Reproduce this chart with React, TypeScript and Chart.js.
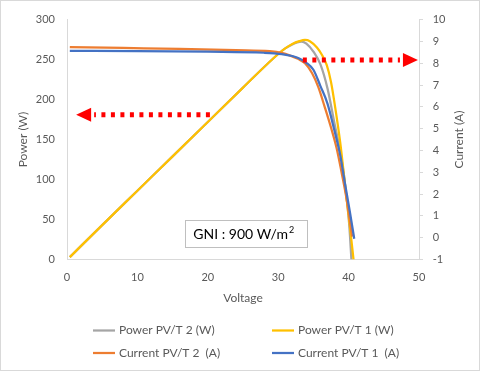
import React, { useEffect, useRef } from "react";
import { Chart, registerables } from "chart.js";

Chart.register(...registerables);

// ---------- data ----------
const powerPVT2Voltage = [0.4, 5, 10, 15, 20, 25, 30, 31, 32, 32.7, 33.3, 34, 35, 36, 37, 38, 38.7, 39.3, 39.8, 40.1, 40.4];
const powerPVT2Watts = [3, 43, 86, 129, 172, 215, 257, 264, 269, 271.5, 272.5, 270, 260, 244, 214, 170, 140, 108, 70, 42, 0];

const powerPVT1Voltage = [0.4, 5, 10, 15, 20, 25, 30, 31, 32, 33, 33.8, 34.5, 35.5, 36.2, 36.9, 37.5, 38.1, 38.8, 39.6, 40.2, 40.7];
const powerPVT1Watts = [3, 43, 86, 129, 172, 215, 257, 264, 269.5, 273, 274.5, 273, 265, 256, 243, 222, 190, 147, 85, 40, 0];

const currentPVT2Voltage = [0.4, 8, 16, 24, 28.8, 30.5, 31.7, 32.8, 33.8, 34.8, 35.7, 36.6, 37.5, 38.3, 39.0, 39.7, 40.5];
const currentPVT2Amps = [8.74, 8.7, 8.66, 8.6, 8.55, 8.47, 8.35, 8.2, 8.0, 7.55, 6.9, 6.0, 5.05, 4.1, 3.0, 1.8, 0.05];

const currentPVT1Voltage = [0.4, 10, 20, 28, 30.5, 32, 33, 34, 35, 36, 37, 38, 38.8, 39.5, 40.2, 40.8];
const currentPVT1Amps = [8.57, 8.56, 8.53, 8.48, 8.42, 8.33, 8.22, 8.02, 7.7, 6.95, 6.15, 4.9, 3.8, 2.45, 1.15, -0.05];

const seriesLabels = ["Power PV/T 2 (W)", "Power PV/T 1 (W)", "Current PV/T 2  (A)", "Current PV/T 1  (A)"];
const seriesColors = ["#a5a5a5", "#ffc000", "#ed7d31", "#4472c4"];

const voltageRange = [0, 50, 10];
const powerRange = [0, 300, 50];
const currentRange = [-1, 10, 1];

const gniLabel = "GNI : 900 W/m";
const gniSup = "2";

// annotation anchors (data units)
const leftArrow = { tail: 20.3, tip: 1.3, power: 181 };
const rightArrow = { tail: 33.5, tip: 49.85, current: 8.15 };
const gniBox = { v0: 16.8, v1: 34.2, p0: 14.9, p1: 49.2 };

const FONT = "Lato, 'Open Sans', sans-serif";
const TEXT = "#595959";
const AXIS = "#d9d9d9";

const zip = (xs: number[], ys: number[]) => xs.map((x, i) => ({ x, y: ys[i] }));

function drawArrow(ctx: CanvasRenderingContext2D, xTail: number, xTip: number, y: number) {
  const dir = Math.sign(xTip - xTail);
  const head = 15;
  const half = 7;
  const base = xTip - dir * head;
  ctx.save();
  ctx.strokeStyle = "#ff0000";
  ctx.fillStyle = "#ff0000";
  ctx.lineWidth = 5;
  ctx.setLineDash([4, 5.5]);
  ctx.beginPath();
  ctx.moveTo(xTail, y);
  ctx.lineTo(base - dir * 3, y);
  ctx.stroke();
  ctx.setLineDash([]);
  ctx.beginPath();
  ctx.moveTo(xTip, y);
  ctx.lineTo(base, y - half);
  ctx.lineTo(base, y + half);
  ctx.closePath();
  ctx.fill();
  ctx.restore();
}

const extrasPlugin = {
  id: "extras",
  afterDatasetsDraw(chart: any) {
    const { ctx, scales } = chart;
    const x = scales.x, y = scales.y, y1 = scales.y1;
    // GNI box
    const bx0 = x.getPixelForValue(gniBox.v0);
    const bx1 = x.getPixelForValue(gniBox.v1);
    const by0 = y.getPixelForValue(gniBox.p1);
    const by1 = y.getPixelForValue(gniBox.p0);
    ctx.save();
    ctx.fillStyle = "#ffffff";
    ctx.fillRect(bx0, by0, bx1 - bx0, by1 - by0);
    ctx.strokeStyle = "#bfbfbf";
    ctx.lineWidth = 1;
    ctx.strokeRect(Math.round(bx0) + 0.5, Math.round(by0) + 0.5, Math.round(bx1 - bx0), Math.round(by1 - by0));
    ctx.fillStyle = "#000000";
    ctx.font = `14px ${FONT}`;
    ctx.textBaseline = "middle";
    ctx.textAlign = "left";
    const ty = (by0 + by1) / 2 + 1;
    ctx.fillText(gniLabel, bx0 + 8, ty);
    const w = ctx.measureText(gniLabel).width;
    ctx.font = `9px ${FONT}`;
    ctx.fillText(gniSup, bx0 + 8 + w + 1, ty - 5);
    ctx.restore();

    // arrows
    drawArrow(ctx, x.getPixelForValue(leftArrow.tail), x.getPixelForValue(leftArrow.tip), y.getPixelForValue(leftArrow.power));
    drawArrow(ctx, x.getPixelForValue(rightArrow.tail), x.getPixelForValue(rightArrow.tip), y1.getPixelForValue(rightArrow.current));
  },
  afterDraw(chart: any) {
    const { ctx, chartArea, width } = chart;
    // right axis title, reading bottom-to-top
    ctx.save();
    ctx.fillStyle = TEXT;
    ctx.font = `12px ${FONT}`;
    ctx.textAlign = "center";
    ctx.textBaseline = "middle";
    ctx.translate(width - 20, (chartArea.top + chartArea.bottom) / 2);
    ctx.rotate(-Math.PI / 2);
    ctx.fillText("Current (A)", 0, 0);
    ctx.restore();

    // legend, two columns
    const cx = width / 2;
    const cols = [cx - 147, cx + 32];
    const rows = [chartArea.bottom + 71, chartArea.bottom + 93.5];
    ctx.save();
    ctx.font = `12px ${FONT}`;
    ctx.textBaseline = "middle";
    ctx.textAlign = "left";
    chart.data.datasets.forEach((ds: any, i: number) => {
      const lx = cols[i % 2];
      const ly = rows[Math.floor(i / 2)];
      ctx.strokeStyle = ds.borderColor;
      ctx.lineWidth = 2.25;
      ctx.beginPath();
      ctx.moveTo(lx, ly);
      ctx.lineTo(lx + 22, ly);
      ctx.stroke();
      ctx.fillStyle = TEXT;
      ctx.fillText(ds.label, lx + 26, ly);
    });
    ctx.restore();
  },
};

export default function App() {
  const ref = useRef<HTMLCanvasElement>(null);
  useEffect(() => {
    if (!ref.current) return;
    const tickFont = { family: FONT, size: 11 };
    const titleFont = { family: FONT, size: 12 };
    const series = [
      zip(powerPVT2Voltage, powerPVT2Watts),
      zip(powerPVT1Voltage, powerPVT1Watts),
      zip(currentPVT2Voltage, currentPVT2Amps),
      zip(currentPVT1Voltage, currentPVT1Amps),
    ];
    const axisIds = ["y", "y", "y1", "y1"];
    const orders = [4, 3, 2, 1];
    const chart = new Chart(ref.current, {
      type: "scatter",
      data: {
        datasets: series.map((d, i) => ({
          label: seriesLabels[i],
          data: d,
          yAxisID: axisIds[i],
          order: orders[i],
          showLine: true,
          borderColor: seriesColors[i],
          backgroundColor: seriesColors[i],
          borderWidth: 2.25,
          pointRadius: 0,
          pointHoverRadius: 0,
          cubicInterpolationMode: "monotone",
          fill: false,
        })),
      },
      options: {
        animation: false,
        responsive: true,
        maintainAspectRatio: false,
        layout: { padding: { top: 14, left: 0, right: 0, bottom: 60.5 } },
        plugins: { legend: { display: false }, tooltip: { enabled: false } },
        scales: {
          x: {
            type: "linear",
            min: voltageRange[0],
            max: voltageRange[1],
            ticks: { stepSize: voltageRange[2], color: TEXT, font: tickFont, padding: 11 },
            grid: { display: false, drawTicks: false },
            border: { display: true, color: AXIS },
            title: { display: true, text: "Voltage", color: TEXT, font: titleFont, padding: { top: 0, bottom: 4.6 } },
            afterFit: (s: any) => { s.height = 50; },
          },
          y: {
            type: "linear",
            position: "left",
            min: powerRange[0],
            max: powerRange[1],
            ticks: { stepSize: powerRange[2], color: TEXT, font: tickFont, padding: 12 },
            grid: { display: false, drawTicks: false },
            border: { display: true, color: AXIS },
            title: { display: true, text: "Power (W)", color: TEXT, font: titleFont, padding: { top: 15, bottom: 0 } },
            afterFit: (s: any) => { s.width = 66; },
          },
          y1: {
            type: "linear",
            position: "right",
            min: currentRange[0],
            max: currentRange[1],
            ticks: { stepSize: currentRange[2], color: TEXT, font: tickFont, padding: 9.7 },
            grid: { display: true, drawOnChartArea: false, drawTicks: true, tickLength: 4, color: AXIS },
            border: { display: true, color: AXIS },
            title: { display: false },
            afterFit: (s: any) => { s.width = 60; },
          },
        },
      } as any,
      plugins: [extrasPlugin],
    });
    return () => chart.destroy();
  }, []);

  return (
    <div
      style={{
        position: "absolute",
        left: 0,
        top: 0,
        width: 480,
        height: 371,
        boxSizing: "border-box",
        border: "1px solid #d9d9d9",
        background: "#ffffff",
      }}
    >
      <div style={{ position: "relative", width: "100%", height: "100%" }}>
        <canvas ref={ref} />
      </div>
    </div>
  );
}
